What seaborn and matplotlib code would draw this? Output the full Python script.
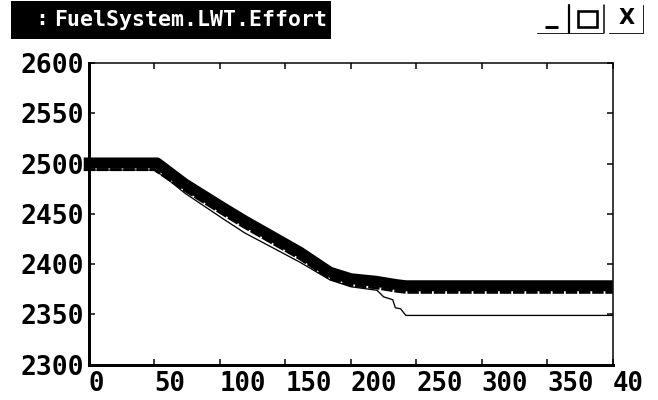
import matplotlib
matplotlib.use("Agg")
import matplotlib.pyplot as plt
from matplotlib.patches import Rectangle
import seaborn as sns

sns.set_theme(style="white")
plt.rcParams["font.family"] = ["DejaVu Sans Mono"]

TITLE = "FuelSystem.LWT.Effort"

# thick trace
effort_x = [-4, 52, 73, 102.5, 119, 161, 184, 200, 219, 235.5, 242, 400]
effort_y = [2500.6, 2500.6, 2480, 2456, 2443, 2412, 2392, 2385.5, 2383, 2379.5, 2378.5, 2378.5]

# bottom edge of the thick trace, the dashes show up as small notches
edge_x = [-4, 50, 73, 102.5, 119, 161, 184, 200, 219, 235.5, 242, 400]
edge_y = [2494, 2494, 2473.5, 2449.5, 2436.5, 2405.5, 2385.5, 2379, 2376.5, 2373, 2372, 2372]

# thin trace which drops away from the thick one
thin_x = [-4, 50, 58, 73, 102.5, 119, 161, 184, 200, 220, 225, 232, 234, 238, 242, 400]
thin_y = [2493.5, 2493.5, 2486.7, 2470.8, 2445, 2431, 2402, 2384.4, 2377.5, 2374, 2367.5, 2364.6, 2356.6, 2355.6, 2349, 2349]

# white dots between the thick and the thin trace
gap_x = [52, 58, 73, 102.5, 119, 161, 184, 200, 214]
gap_y = [2492, 2488.5, 2473, 2447.5, 2433.5, 2404.5, 2387, 2380, 2377.5]

x_ticks = [0, 50, 100, 150, 200, 250, 300, 350, 400]
x_labels = ["0", "50", "100", "150", "200", "250", "300", "350", "40"]
y_ticks = [2300, 2350, 2400, 2450, 2500, 2550, 2600]

W, H = 658, 400
PX = 0.72  # one pixel in points at dpi 100

fig = plt.figure(figsize=(W / 100, H / 100), dpi=100)

# ── window chrome, drawn in pixel coordinates ────────────────────────────────
bg = fig.add_axes([0, 0, 1, 1])
bg.set_xlim(0, W)
bg.set_ylim(H, 0)
bg.axis("off")
bg.add_patch(Rectangle((11, 1), 320, 38, color="black", lw=0))
bg.text(42, 19, ":", color="white", fontsize=15.5, fontweight="bold", ha="center", va="center")
bg.text(54, 19.5, TITLE, color="white", fontsize=15.5, fontweight="bold", ha="left", va="center")

bg.plot([545, 558], [27, 27], color="black", lw=3 * PX, solid_capstyle="butt")
bg.plot([537, 603], [33, 33], color="#222222", lw=1 * PX)
bg.plot([569, 569], [5, 33], color="black", lw=2.2 * PX)
bg.plot([604, 604], [5, 33], color="black", lw=1.5 * PX)
bg.add_patch(Rectangle((578, 11), 19, 16, fill=False, ec="black", lw=2.6 * PX))
bg.plot([609, 643], [33, 33], color="#222222", lw=1 * PX)
bg.plot([643, 643], [5, 33], color="#222222", lw=1 * PX)
bg.text(626.5, 17.5, "X", color="black", fontsize=15, fontweight="bold", ha="center", va="center",
        family="DejaVu Sans")

# ── plot ─────────────────────────────────────────────────────────────────────
ax = fig.add_axes([89 / W, 1 - 364.7 / H, (612.7 - 89) / W, (364.7 - 63) / H])
ax.patch.set_alpha(0)

sns.lineplot(x=thin_x, y=thin_y, ax=ax, color="black", lw=1.3 * PX, sort=False, errorbar=None)
sns.lineplot(x=gap_x, y=gap_y, ax=ax, color="white", lw=1.4 * PX, sort=False, errorbar=None,
             linestyle=(0, (1.5, 1.5)))
sns.lineplot(x=edge_x, y=edge_y, ax=ax, color="black", lw=3 * PX, sort=False, errorbar=None,
             linestyle=(0, (3.8, 0.6)))
sns.lineplot(x=effort_x, y=effort_y, ax=ax, color="black", lw=11 * PX, sort=False, errorbar=None)
for line in ax.get_lines():
    line.set_clip_on(False)
    line.set_solid_capstyle("butt")
    line.set_dash_capstyle("butt")

ax.set_xlim(0, 400)
ax.set_ylim(2300, 2600)

ax.set_xticks(x_ticks)
ax.set_xticklabels(x_labels, ha="left", fontweight="bold", fontsize=18.5)
ax.set_yticks(y_ticks)
ax.set_yticklabels([str(v) for v in y_ticks], fontweight="bold", fontsize=19)

ax.tick_params(axis="x", which="both", direction="in", bottom=True, top=True,
               length=4, width=1.5 * PX, pad=4.5, color="black", labelcolor="black")
ax.tick_params(axis="y", which="both", direction="in", left=True, right=True,
               length=4.5, width=1.5 * PX, pad=3.5, color="black", labelcolor="black")

for side, width in {"left": 3, "bottom": 3, "top": 1.5, "right": 1.5}.items():
    ax.spines[side].set_visible(True)
    ax.spines[side].set_color("black")
    ax.spines[side].set_linewidth(width * PX)

fig.savefig("out.png", dpi=100, facecolor="white")
